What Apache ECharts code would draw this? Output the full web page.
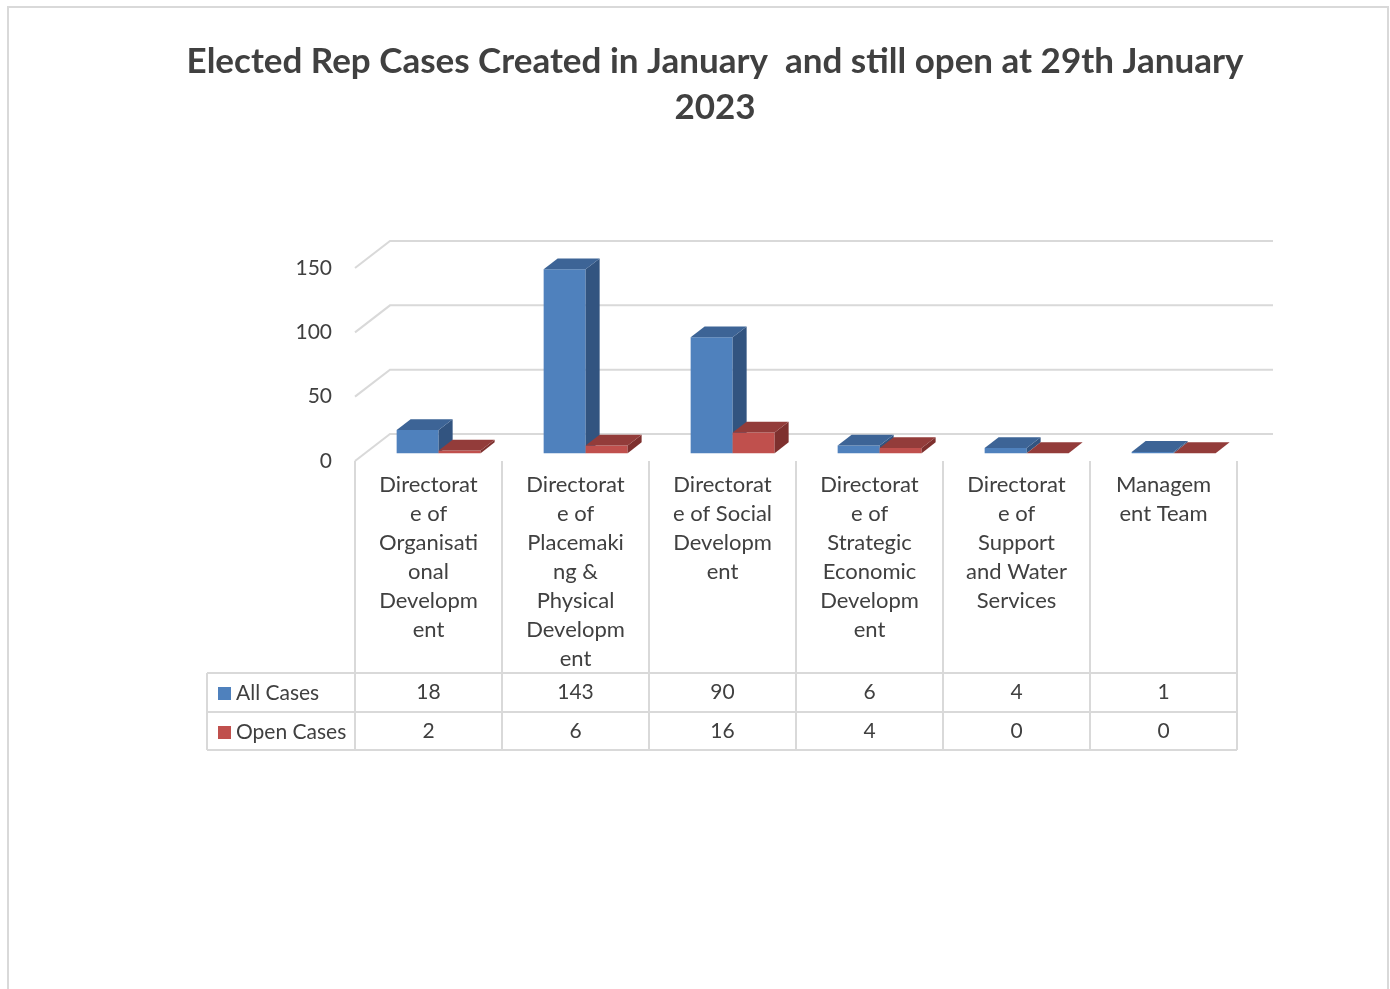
<!DOCTYPE html>
<html><head><meta charset="utf-8">
<script src="https://cdn.jsdelivr.net/npm/echarts@6/dist/echarts.min.js"></script>
<style>html,body{margin:0;padding:0;background:#fff}#c{width:1390px;height:989px}</style>
</head><body><div id="c"></div>
<script>
const titleText = 'Elected Rep Cases Created in January  and still open at 29th January\n2023';
const categories = [
  'Directorat\ne of\nOrganisati\nonal\nDevelopm\nent',
  'Directorat\ne of\nPlacemaki\nng &\nPhysical\nDevelopm\nent',
  'Directorat\ne of Social\nDevelopm\nent',
  'Directorat\ne of\nStrategic\nEconomic\nDevelopm\nent',
  'Directorat\ne of\nSupport\nand Water\nServices',
  'Managem\nent Team'
];
const seriesNames = ['All Cases', 'Open Cases'];
const allCases = [18, 143, 90, 6, 4, 1];
const openCases = [2, 6, 16, 4, 0, 0];
const yTicks = [0, 50, 100, 150];

const FONT = 'Lato, "Open Sans", sans-serif';
const TXT = '#404040';
const LINE = '#D9D9D9';
const GL = 355, GR = 1237, GTOP = 268, GBOT = 461;
const DEPTH = [35, -27];
const FRONT = 0.29, BARD = 0.40;
const BARFRAC = 0.2857;
const faces = [
  {front: '#4F81BD', top: '#3D6496', side: '#325480'},
  {front: '#C0504D', top: '#933C3A', side: '#7E302E'}
];

function barRender(sIdx) {
  return function (params, api) {
    const ci = api.value(0), v = api.value(1);
    const pT = api.coord([ci, v]);
    const p0 = api.coord([ci, 0]);
    const bw = api.size([1, 0])[0];
    const w = bw * BARFRAC;
    const fdx = DEPTH[0] * FRONT, fdy = DEPTH[1] * FRONT;
    const ddx = DEPTH[0] * BARD, ddy = DEPTH[1] * BARD;
    const x0 = pT[0] - w + sIdx * w + fdx;
    const x1 = x0 + w;
    const yT = pT[1] + fdy, yB = p0[1] + fdy;
    const f = faces[sIdx];
    const ch = [];
    if (yB - yT > 0.01) {
      ch.push({type: 'rect', shape: {x: x0, y: yT, width: w, height: yB - yT}, style: {fill: f.front}});
      ch.push({type: 'polygon', shape: {points: [[x1, yT], [x1 + ddx, yT + ddy], [x1 + ddx, yB + ddy], [x1, yB]]}, style: {fill: f.side}});
    }
    ch.push({type: 'polygon', shape: {points: [[x0, yT], [x1, yT], [x1 + ddx, yT + ddy], [x0 + ddx, yT + ddy]]}, style: {fill: f.top}});
    return {type: 'group', children: ch};
  };
}

function wallRender(params, api) {
  const ch = [];
  yTicks.forEach(t => {
    const y = api.coord([0, t])[1];
    ch.push({type: 'polyline', shape: {points: [[GL, y], [GL + DEPTH[0], y + DEPTH[1]], [GR + DEPTH[0] + 1, y + DEPTH[1]]]},
      style: {stroke: LINE, lineWidth: 2, fill: null}});
  });
  return {type: 'group', children: ch};
}

const chart = echarts.init(document.getElementById('c'), null, {renderer: 'canvas'});

const tableLines = [];
for (let i = 0; i <= categories.length; i++) {
  const x = GL + i * (GR - GL) / categories.length;
  tableLines.push({type: 'line', shape: {x1: x, y1: GBOT, x2: x, y2: 750}, style: {stroke: LINE, lineWidth: 2}});
}
[673, 712, 750].forEach(y => tableLines.push({type: 'line', shape: {x1: 207, y1: y, x2: GR, y2: y}, style: {stroke: LINE, lineWidth: 2}}));
tableLines.push({type: 'line', shape: {x1: 207, y1: 673, x2: 207, y2: 750}, style: {stroke: LINE, lineWidth: 2}});

chart.setOption({
  animation: false,
  backgroundColor: '#fff',
  textStyle: {fontFamily: FONT},
  grid: {left: GL, right: 1390 - GR, top: GTOP, bottom: 989 - GBOT, containLabel: false},
  legend: {
    orient: 'vertical', left: 213, top: 678, itemWidth: 13, itemHeight: 13, itemGap: 18,
    icon: 'rect', data: seriesNames, selectedMode: false,
    textStyle: {fontSize: 21, color: TXT, fontFamily: FONT}
  },
  xAxis: [
    {type: 'category', data: categories, axisLine: {show: false}, axisTick: {show: false}, splitLine: {show: false},
      axisLabel: {interval: 0, fontSize: 22, lineHeight: 29, color: TXT, margin: 9, fontFamily: FONT}},
    {type: 'category', data: categories, position: 'bottom', offset: 231, axisLine: {show: false}, axisTick: {show: false},
      axisLabel: {interval: 0, fontSize: 21, color: TXT, margin: 0, verticalAlign: 'middle', fontFamily: FONT,
        formatter: (v, i) => String(allCases[i])}},
    {type: 'category', data: categories, position: 'bottom', offset: 270, axisLine: {show: false}, axisTick: {show: false},
      axisLabel: {interval: 0, fontSize: 21, color: TXT, margin: 0, verticalAlign: 'middle', fontFamily: FONT,
        formatter: (v, i) => String(openCases[i])}}
  ],
  yAxis: {type: 'value', min: 0, max: 150, interval: 50, axisLine: {show: false}, axisTick: {show: false}, splitLine: {show: false},
    axisLabel: {fontSize: 21, color: TXT, margin: 23, fontFamily: FONT, padding: [9, 0, 0, 0]}},
  graphic: [
    {type: 'rect', shape: {x: 8, y: 7, width: 1380, height: 1000}, style: {stroke: LINE, lineWidth: 2, fill: null}, z: -10},
    {type: 'text', x: 715, y: 39, style: {text: titleText, textAlign: 'center', fill: TXT,
      font: 'bold 35px ' + FONT, lineHeight: 46}},
    ...tableLines
  ],
  series: [
    {type: 'custom', name: 'wall', renderItem: wallRender, data: [[0, 0]], silent: true, z: 1},
    {type: 'custom', name: seriesNames[0], renderItem: barRender(0), itemStyle: {color: faces[0].front},
      data: allCases.map((v, i) => [i, v]), z: 2},
    {type: 'custom', name: seriesNames[1], renderItem: barRender(1), itemStyle: {color: faces[1].front},
      data: openCases.map((v, i) => [i, v]), z: 2}
  ]
});
</script></body></html>
